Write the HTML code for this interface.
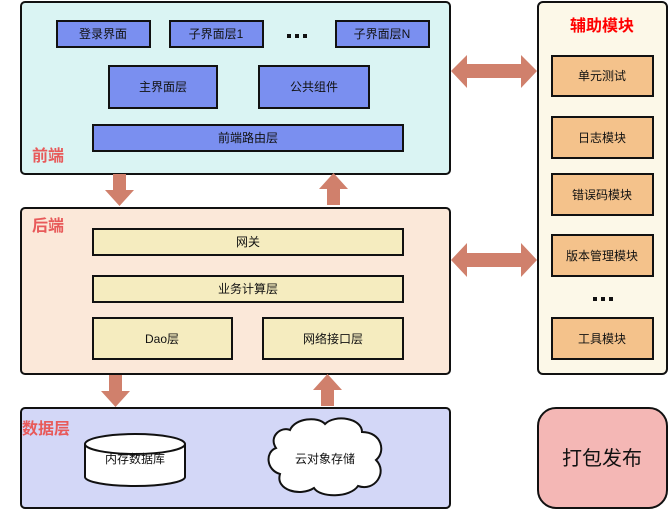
<!DOCTYPE html>
<html><head><meta charset="utf-8"><style>
html,body{margin:0;padding:0;background:#fff}
svg text{font-family:"Liberation Sans","Noto Sans CJK SC",sans-serif;}
</style></head><body>
<svg width="669" height="510" viewBox="0 0 669 510" xmlns="http://www.w3.org/2000/svg">
<g stroke="#111" stroke-width="2">
<rect x="21" y="2" width="429" height="172" rx="4" fill="#daf4f3"/>
<rect x="21" y="208" width="429" height="166" rx="4" fill="#fbe8d9"/>
<rect x="21" y="408" width="429" height="100" rx="4" fill="#d3d7f7"/>
<rect x="538" y="2" width="129" height="372" rx="5" fill="#fcf8e8"/>
<rect x="538" y="408" width="129" height="100" rx="18" fill="#f4b7b5"/>
</g>
<g stroke="#111" stroke-width="2" fill="#7a8ff0">
<rect x="57" y="21" width="93" height="26"/>
<rect x="170" y="21" width="93" height="26"/>
<rect x="336" y="21" width="93" height="26"/>
<rect x="109" y="66" width="108" height="42"/>
<rect x="259" y="66" width="110" height="42"/>
<rect x="93" y="125" width="310" height="26"/>
</g>
<g stroke="#111" stroke-width="2" fill="#f5ecbf">
<rect x="93" y="229" width="310" height="26"/>
<rect x="93" y="276" width="310" height="26"/>
<rect x="93" y="318" width="139" height="41"/>
<rect x="263" y="318" width="140" height="41"/>
</g>
<g stroke="#111" stroke-width="2" fill="#f4c28b">
<rect x="552" y="56" width="101" height="40"/>
<rect x="552" y="117" width="101" height="41"/>
<rect x="552" y="174" width="101" height="41"/>
<rect x="552" y="235" width="101" height="41"/>
<rect x="552" y="318" width="101" height="41"/>
</g>
<g fill="#d0806c">
<polygon points="113,174 126,174 126,190 134,190 119.5,206 105,190 113,190"/>
<polygon points="327,205 340,205 340,189 348,189 333.5,173 319,189 327,189"/>
<polygon points="109,375 122,375 122,391 130,391 115.5,407 101,391 109,391"/>
<polygon points="321,406 334,406 334,390 342,390 327.5,374 313,390 321,390"/>
<polygon points="451,71 467,55 467,64 521,64 521,55 537,71 521,88 521,78 467,78 467,88"/>
<polygon points="451,260 467,243 467,253 521,253 521,243 537,260 521,277 521,267 467,267 467,277"/>
</g>
<g font-size="12" fill="#111" text-anchor="middle">
<text x="103" y="38">登录界面</text>
<text x="216" y="38">子界面层1</text>
<text x="382" y="38">子界面层N</text>
<text x="163" y="91">主界面层</text>
<text x="314" y="91">公共组件</text>
<text x="248" y="142">前端路由层</text>
<text x="248" y="246">网关</text>
<text x="248" y="293">业务计算层</text>
<text x="162" y="343">Dao层</text>
<text x="333" y="343">网络接口层</text>
<text x="602" y="80">单元测试</text>
<text x="602" y="142">日志模块</text>
<text x="602" y="199">错误码模块</text>
<text x="602" y="260">版本管理模块</text>
<text x="602" y="343">工具模块</text>
</g>
<g fill="#111">
<rect x="287" y="34" width="4" height="4"/><rect x="295" y="34" width="4" height="4"/><rect x="303" y="34" width="4" height="4"/>
<rect x="593" y="297" width="4" height="4"/><rect x="601" y="297" width="4" height="4"/><rect x="609" y="297" width="4" height="4"/>
</g>
<g font-size="16" font-weight="bold" fill="#e85a5a">
<text x="32" y="161">前端</text>
<text x="32" y="231">后端</text>
<text x="22" y="434">数据层</text>
</g>
<text x="602" y="31" font-size="16" font-weight="bold" fill="#f00" text-anchor="middle">辅助模块</text>
<text x="602" y="465" font-size="20" fill="#111" text-anchor="middle">打包发布</text>
<g stroke="#111" stroke-width="2" fill="#fff">
<path d="M85,444 L85,477 A50,9 0 0 0 185,477 L185,444"/>
<ellipse cx="135" cy="444" rx="50" ry="10"/>
</g>
<text x="135" y="463" font-size="12" fill="#111" text-anchor="middle">内存数据库</text>
<path d="M290,430 C295,418 318,416 325,424 C335,414 362,418 362,432 C382,432 386,452 376,460 C388,472 375,492 358,486 C350,498 320,498 314,488 C300,497 275,490 280,474 C266,470 265,452 276,448 C268,436 282,426 290,430 Z" fill="#fff" stroke="#111" stroke-width="2"/>
<text x="325" y="463" font-size="12" fill="#111" text-anchor="middle">云对象存储</text>
</svg>
</body></html>
